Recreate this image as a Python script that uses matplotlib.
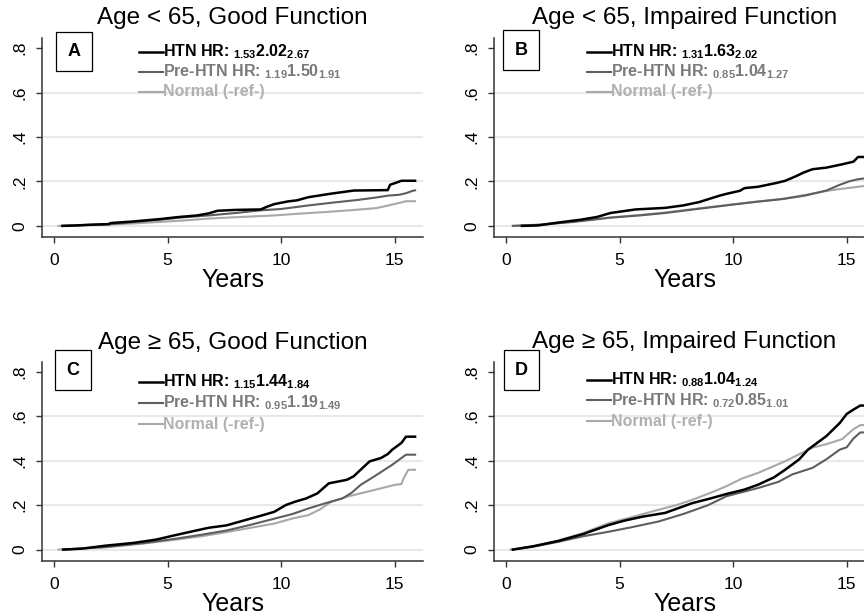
import numpy as np
import matplotlib.pyplot as plt

plt.rcParams['font.family'] = ['Liberation Sans', 'DejaVu Sans']
plt.rcParams['mathtext.fontset'] = 'custom'
plt.rcParams['mathtext.rm'] = 'Liberation Sans:bold'
plt.rcParams['mathtext.bf'] = 'Liberation Sans:bold'
plt.rcParams['mathtext.it'] = 'Liberation Sans:bold'

titles = ['Age < 65, Good Function', 'Age < 65, Impaired Function',
          'Age \u2265 65, Good Function', 'Age \u2265 65, Impaired Function']
panel_letters = ['A', 'B', 'C', 'D']
groups = ['HTN', 'Pre-HTN', 'Normal']

# hazard ratios: (low, estimate, high) for HTN and Pre-HTN
hr_htn = [(1.53, 2.02, 2.67), (1.31, 1.63, 2.02), (1.15, 1.44, 1.84), (0.88, 1.04, 1.24)]
hr_pre = [(1.19, 1.50, 1.91), (0.85, 1.04, 1.27), (0.95, 1.19, 1.49), (0.72, 0.85, 1.01)]

# panel A
a_htn_t = [0.37, 1.0, 1.5, 2.4, 2.5, 3.5, 4.7, 5.5, 6.3, 6.8, 7.2, 8.0, 9.1, 9.4, 9.7, 10.3,
           10.7, 11.2, 12.2, 13.2, 14.7, 14.8, 15.0, 15.3, 15.9]
a_htn_y = [0, 0.002, 0.005, 0.008, 0.013, 0.02, 0.031, 0.040, 0.047, 0.056, 0.068, 0.072,
           0.074, 0.087, 0.098, 0.11, 0.115, 0.129, 0.145, 0.159, 0.161, 0.185, 0.192, 0.203, 0.203]
a_pre_t = [0.37, 2.4, 4.7, 5.5, 6.8, 8.0, 9.1, 10.0, 11.2, 12.3, 13.4, 14.2, 14.7, 15.2, 15.5,
           15.8, 15.9]
a_pre_y = [0, 0.007, 0.028, 0.037, 0.047, 0.058, 0.07, 0.076, 0.092, 0.105, 0.117, 0.128,
           0.136, 0.14, 0.147, 0.158, 0.16]
a_nor_t = [0.2, 2.0, 3.5, 4.7, 5.8, 6.8, 8.0, 9.7, 10.8, 11.9, 13.0, 14.2, 14.9, 15.5, 15.9]
a_nor_y = [0, 0.004, 0.011, 0.018, 0.025, 0.033, 0.039, 0.047, 0.055, 0.062, 0.07, 0.08,
           0.096, 0.111, 0.111]

# panel B
b_htn_t = [0.7, 1.4, 2.3, 3.3, 4.0, 4.6, 5.7, 7.0, 7.8, 8.5, 9.4, 9.7, 10.3, 10.5, 11.1, 11.9,
           12.3, 12.8, 13.1, 13.5, 14.1, 14.8, 15.3, 15.5, 15.9]
b_htn_y = [0, 0.002, 0.015, 0.028, 0.04, 0.058, 0.074, 0.081, 0.092, 0.107, 0.136, 0.144,
           0.158, 0.17, 0.176, 0.193, 0.203, 0.225, 0.24, 0.255, 0.262, 0.277, 0.289, 0.31, 0.31]
b_pre_t = [0.3, 1.5, 3.0, 4.6, 6.0, 7.0, 8.5, 10.0, 11.0, 12.2, 13.2, 14.1, 14.7, 15.1, 15.5,
           15.9]
b_pre_y = [0, 0.005, 0.018, 0.037, 0.048, 0.058, 0.077, 0.096, 0.108, 0.121, 0.137, 0.159,
           0.185, 0.2, 0.21, 0.215]
b_nor_t = [0.3, 1.5, 3.0, 4.6, 6.0, 7.0, 8.5, 10.0, 11.0, 12.2, 13.2, 14.1, 14.7, 15.2, 15.8,
           15.85, 15.9]
b_nor_y = [0, 0.006, 0.02, 0.038, 0.05, 0.06, 0.079, 0.097, 0.109, 0.122, 0.14, 0.157,
           0.166, 0.172, 0.18, 0.233, 0.233]

# panel C
c_htn_t = [0.4, 1.2, 2.3, 3.5, 4.5, 5.3, 6.0, 6.8, 7.6, 8.5, 9.2, 9.7, 10.2, 10.6, 11.1, 11.6,
           12.1, 12.9, 13.2, 13.5, 13.9, 14.4, 14.7, 14.9, 15.3, 15.5, 15.9]
c_htn_y = [0, 0.004, 0.018, 0.03, 0.045, 0.064, 0.08, 0.098, 0.109, 0.135, 0.155, 0.17, 0.2,
           0.215, 0.23, 0.253, 0.298, 0.314, 0.33, 0.359, 0.397, 0.412, 0.43, 0.45, 0.48,
           0.508, 0.508]
c_pre_t = [0.4, 2.3, 4.0, 5.3, 6.5, 7.6, 8.6, 9.7, 10.5, 11.2, 12.0, 12.7, 13.1, 13.5, 14.1,
           14.9, 15.5, 15.9]
c_pre_y = [0, 0.012, 0.03, 0.048, 0.067, 0.086, 0.11, 0.139, 0.16, 0.185, 0.21, 0.23, 0.255,
           0.291, 0.329, 0.382, 0.427, 0.427]
c_nor_t = [0.2, 2.3, 4.0, 5.3, 6.5, 7.6, 8.6, 9.7, 10.5, 11.2, 11.7, 12.2, 12.9, 14.1, 15.0,
           15.3, 15.4, 15.6, 15.9]
c_nor_y = [0, 0.01, 0.028, 0.044, 0.06, 0.079, 0.097, 0.117, 0.14, 0.155, 0.18, 0.215, 0.238,
           0.268, 0.291, 0.295, 0.321, 0.359, 0.359]

# panel D
d_htn_t = [0.3, 1.2, 2.3, 3.4, 4.5, 5.2, 6.0, 7.0, 8.2, 9.0, 9.7, 10.5, 11.1, 11.8, 12.3,
           12.9, 13.3, 14.1, 14.7, 15.0, 15.3, 15.6, 15.9]
d_htn_y = [0, 0.015, 0.039, 0.07, 0.11, 0.13, 0.148, 0.165, 0.209, 0.23, 0.25, 0.27, 0.292,
           0.325, 0.36, 0.405, 0.45, 0.51, 0.57, 0.61, 0.63, 0.648, 0.648]
d_pre_t = [0.3, 1.2, 2.3, 3.4, 4.5, 5.5, 6.7, 7.8, 8.9, 9.7, 11.1, 12.0, 12.6, 13.5, 14.1,
           14.7, 15.0, 15.3, 15.6, 15.9]
d_pre_y = [0, 0.013, 0.035, 0.06, 0.08, 0.1, 0.126, 0.16, 0.2, 0.24, 0.277, 0.305, 0.338,
           0.368, 0.406, 0.45, 0.46, 0.5, 0.527, 0.527]
d_nor_t = [0.2, 1.2, 2.3, 3.4, 4.5, 5.5, 6.7, 7.5, 8.2, 9.0, 9.7, 10.4, 11.1, 12.3, 13.5,
           14.1, 14.8, 15.3, 15.6, 15.9]
d_nor_y = [0, 0.015, 0.04, 0.075, 0.118, 0.145, 0.179, 0.2, 0.224, 0.255, 0.285, 0.32, 0.345,
           0.398, 0.459, 0.474, 0.497, 0.542, 0.56, 0.56]

curves = [
    [(a_htn_t, a_htn_y), (a_pre_t, a_pre_y), (a_nor_t, a_nor_y)],
    [(b_htn_t, b_htn_y), (b_pre_t, b_pre_y), (b_nor_t, b_nor_y)],
    [(c_htn_t, c_htn_y), (c_pre_t, c_pre_y), (c_nor_t, c_nor_y)],
    [(d_htn_t, d_htn_y), (d_pre_t, d_pre_y), (d_nor_t, d_nor_y)],
]

line_colors = ['black', '#5e5e5e', '#a8a8a8']
text_colors = ['black', '#7a7a7a', '#b0b0b0']
line_widths = [1.8, 1.5, 1.5]

# axes placement [left, bottom, width, height] in figure fractions
positions = [[0.0486, 0.614, 0.441, 0.324], [0.5718, 0.614, 0.441, 0.324],
             [0.0486, 0.0868, 0.441, 0.324], [0.5718, 0.0868, 0.441, 0.324]]
legend_x = [0.255, 0.244, 0.255, 0.244]
legend_y = [[0.93, 0.829, 0.729], [0.93, 0.829, 0.729],
            [0.898, 0.792, 0.687], [0.908, 0.807, 0.702]]
box_xy = [(0.084, 0.932), (0.071, 0.94), (0.081, 0.958), (0.072, 0.958)]
title_y = [1.10, 1.10, 1.095, 1.098]

fig = plt.figure(figsize=(8.64, 6.14), dpi=100)

for i in range(4):
    ax = fig.add_axes(positions[i])
    for yg in [0, 0.2, 0.4, 0.6]:
        ax.axhline(yg, color='#e8e8e8', lw=1.5, zorder=0)
    for j in range(3):
        t, y = curves[i][j]
        ax.plot(t, y, color=line_colors[j], lw=line_widths[j], zorder=3 - j)

    ax.set_xlim(-0.53, 16.25)
    ax.set_ylim(-0.05, 0.845)
    ax.set_xticks([0, 5, 10, 15])
    ax.set_yticks([0, 0.2, 0.4, 0.6, 0.8])
    ax.set_yticklabels(['0', '.2', '.4', '.6', '.8'], rotation=90, va='center')
    ax.tick_params(labelsize=12.5, length=4.5, width=1, pad=6, color='#333333')
    ax.tick_params(axis='x', pad=7)
    for s in ['top', 'right']:
        ax.spines[s].set_visible(False)
    for s in ['left', 'bottom']:
        ax.spines[s].set_color('#333333')
        ax.spines[s].set_linewidth(1.1)
    ax.set_xlabel('Years', fontsize=18, labelpad=0)

    ax.text(0.5, title_y[i], titles[i], transform=ax.transAxes, ha='center', va='center',
            fontsize=17.5)
    ax.text(box_xy[i][0], box_xy[i][1], panel_letters[i], transform=ax.transAxes,
            ha='center', va='center', fontsize=13, fontweight='bold',
            bbox=dict(boxstyle='square,pad=0.62', fc='white', ec='black', lw=0.9))

    labels = [
        r'HTN HR: ${}_{%.2f}\mathbf{%.2f}_{%.2f}$' % hr_htn[i],
        r'Pre-HTN HR: ${}_{%.2f}\mathbf{%.2f}_{%.2f}$' % hr_pre[i],
        'Normal (-ref-)',
    ]
    x0 = legend_x[i]
    for j in range(3):
        yl = legend_y[i][j]
        ax.plot([x0, x0 + 0.063], [yl, yl], transform=ax.transAxes, color=line_colors[j],
                lw=line_widths[j], clip_on=False)
        ax.text(x0 + 0.063, yl, labels[j], transform=ax.transAxes, ha='left', va='center',
                fontsize=11.5, fontweight='bold', color=text_colors[j])

fig.savefig('out.png', dpi=100)
